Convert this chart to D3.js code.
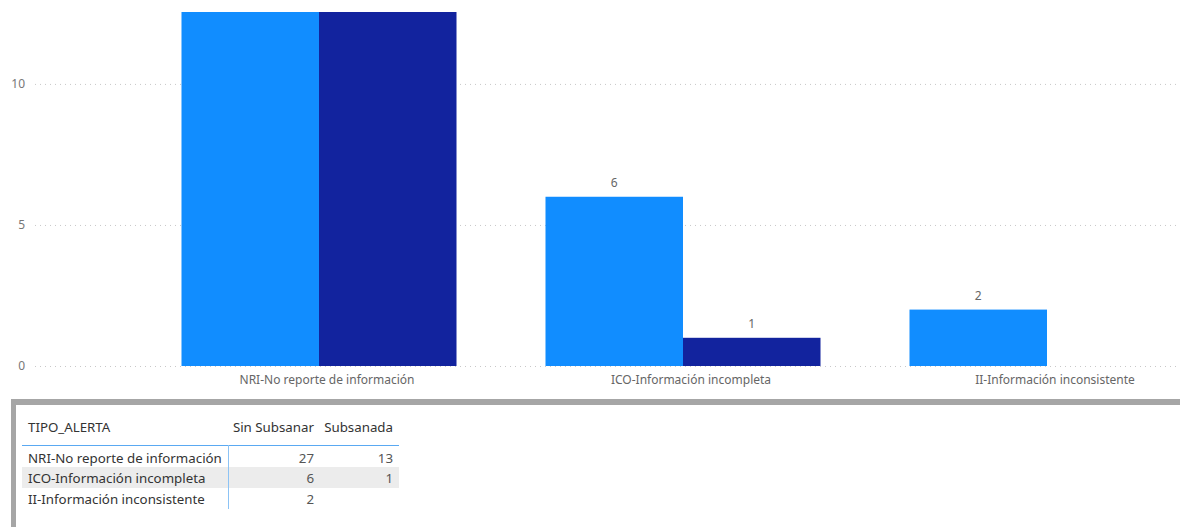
<!DOCTYPE html>
<html>
<head>
<meta charset="utf-8">
<script src="https://cdn.jsdelivr.net/npm/d3@7"></script>
<style>
  body { margin: 0; background: #fff; }
  svg { display: block; font-family: "Noto Sans", "Open Sans", sans-serif; }
</style>
</head>
<body>
<div id="chart"></div>
<script>
const categories = ["NRI-No reporte de información", "ICO-Información incompleta", "II-Información inconsistente"];
const seriesNames = ["Sin Subsanar", "Subsanada"];
const sinSubsanar = [27, 6, 2];
const subsanada = [13, 1, null];
const yTicks = [0, 5, 10];
const colors = ["#118DFF", "#12239E"];

const WIDTH = 1180;
const HEIGHT = 527;
const PLOT = {left: 35, right: 1177, top: 12, bottom: 366};

const svg = d3.select("#chart")
  .append("svg")
    .attr("width", WIDTH)
    .attr("height", HEIGHT);

// scales
const y = d3.scaleLinear().domain([0, 12.55]).range([PLOT.bottom, PLOT.top]);
const x = d3.scaleBand().domain(categories).range([137, 1229]).padding(0);
const xSub = d3.scaleBand().domain(seriesNames).range([0, x.bandwidth()])
  .paddingInner(0).paddingOuter(0.3236);

svg.append("clipPath").attr("id", "plotclip")
  .append("rect")
    .attr("x", 0).attr("y", PLOT.top)
    .attr("width", WIDTH).attr("height", PLOT.bottom - PLOT.top + 1);

// gridlines
svg.append("g").selectAll("line")
  .data(yTicks)
  .enter()
  .append("line")
    .attr("x1", PLOT.left).attr("x2", PLOT.right)
    .attr("y1", d => y(d) + 0.5).attr("y2", d => y(d) + 0.5)
    .attr("stroke", "#c8c8c8")
    .attr("stroke-width", 1)
    .attr("stroke-dasharray", "1,4");

// y tick labels
svg.append("g").selectAll("text")
  .data(yTicks)
  .enter()
  .append("text")
    .attr("x", 25)
    .attr("y", d => y(d))
    .attr("dy", "0.35em")
    .attr("text-anchor", "end")
    .attr("fill", "#777")
    .attr("font-size", 12)
    .text(d => d);

// bars
const rows = categories.map((c, i) => ({cat: c, values: [sinSubsanar[i], subsanada[i]]}));
const barData = [];
rows.forEach(r => r.values.forEach((v, j) => {
  if (v != null) barData.push({cat: r.cat, series: seriesNames[j], value: v, color: colors[j]});
}));

const bars = svg.append("g").attr("clip-path", "url(#plotclip)");
bars.selectAll("rect")
  .data(barData)
  .enter()
  .append("rect")
    .attr("x", d => x(d.cat) + xSub(d.series))
    .attr("width", xSub.bandwidth())
    .attr("y", d => y(d.value))
    .attr("height", d => y(0) - y(d.value))
    .attr("fill", d => d.color);

// data labels (only those inside the visible range)
svg.append("g").selectAll("text")
  .data(barData.filter(d => y(d.value) > PLOT.top + 20))
  .enter()
  .append("text")
    .attr("x", d => x(d.cat) + xSub(d.series) + xSub.bandwidth() / 2)
    .attr("y", d => y(d.value) - 10)
    .attr("text-anchor", "middle")
    .attr("fill", "#666")
    .attr("font-size", 12)
    .text(d => d.value);

// category labels
svg.append("g").selectAll("text")
  .data(categories)
  .enter()
  .append("text")
    .attr("x", d => x(d) + x.bandwidth() / 2 + 8)
    .attr("y", 384)
    .attr("text-anchor", "middle")
    .attr("fill", "#666")
    .attr("font-size", 12)
    .text(d => d);

// separator frame around the table visual
svg.append("rect")
  .attr("x", 11).attr("y", 399)
  .attr("width", WIDTH - 11).attr("height", 6)
  .attr("fill", "#a6a6a6");
svg.append("rect")
  .attr("x", 11).attr("y", 399)
  .attr("width", 5).attr("height", HEIGHT - 399)
  .attr("fill", "#a6a6a6");

// table
const table = svg.append("g").attr("font-size", 13.3);
const colRight = [314, 393];
const rowY = [458, 478, 499];

table.append("rect")
  .attr("x", 22).attr("y", 467)
  .attr("width", 377).attr("height", 21)
  .attr("fill", "#ececec");

table.append("text")
  .attr("x", 28).attr("y", 427).attr("dy", "0.35em")
  .attr("fill", "#333")
  .text("TIPO_ALERTA");

table.selectAll("text.head")
  .data(seriesNames)
  .enter()
  .append("text")
    .attr("class", "head")
    .attr("x", (d, i) => colRight[i])
    .attr("y", 427).attr("dy", "0.35em")
    .attr("text-anchor", "end")
    .attr("fill", "#333")
    .text(d => d);

table.append("line")
  .attr("x1", 22).attr("x2", 399)
  .attr("y1", 445.5).attr("y2", 445.5)
  .attr("stroke", "#5aa9f2").attr("stroke-width", 1);
table.append("line")
  .attr("x1", 228.5).attr("x2", 228.5)
  .attr("y1", 445).attr("y2", 509)
  .attr("stroke", "#8cc3f5").attr("stroke-width", 1);

table.selectAll("text.cat")
  .data(categories)
  .enter()
  .append("text")
    .attr("class", "cat")
    .attr("x", 28)
    .attr("y", (d, i) => rowY[i]).attr("dy", "0.35em")
    .attr("fill", "#333")
    .text(d => d);

rows.forEach((r, i) => {
  r.values.forEach((v, j) => {
    if (v == null) return;
    table.append("text")
      .attr("x", colRight[j])
      .attr("y", rowY[i]).attr("dy", "0.35em")
      .attr("text-anchor", "end")
      .attr("fill", "#555")
      .text(v);
  });
});
</script>
</body>
</html>
